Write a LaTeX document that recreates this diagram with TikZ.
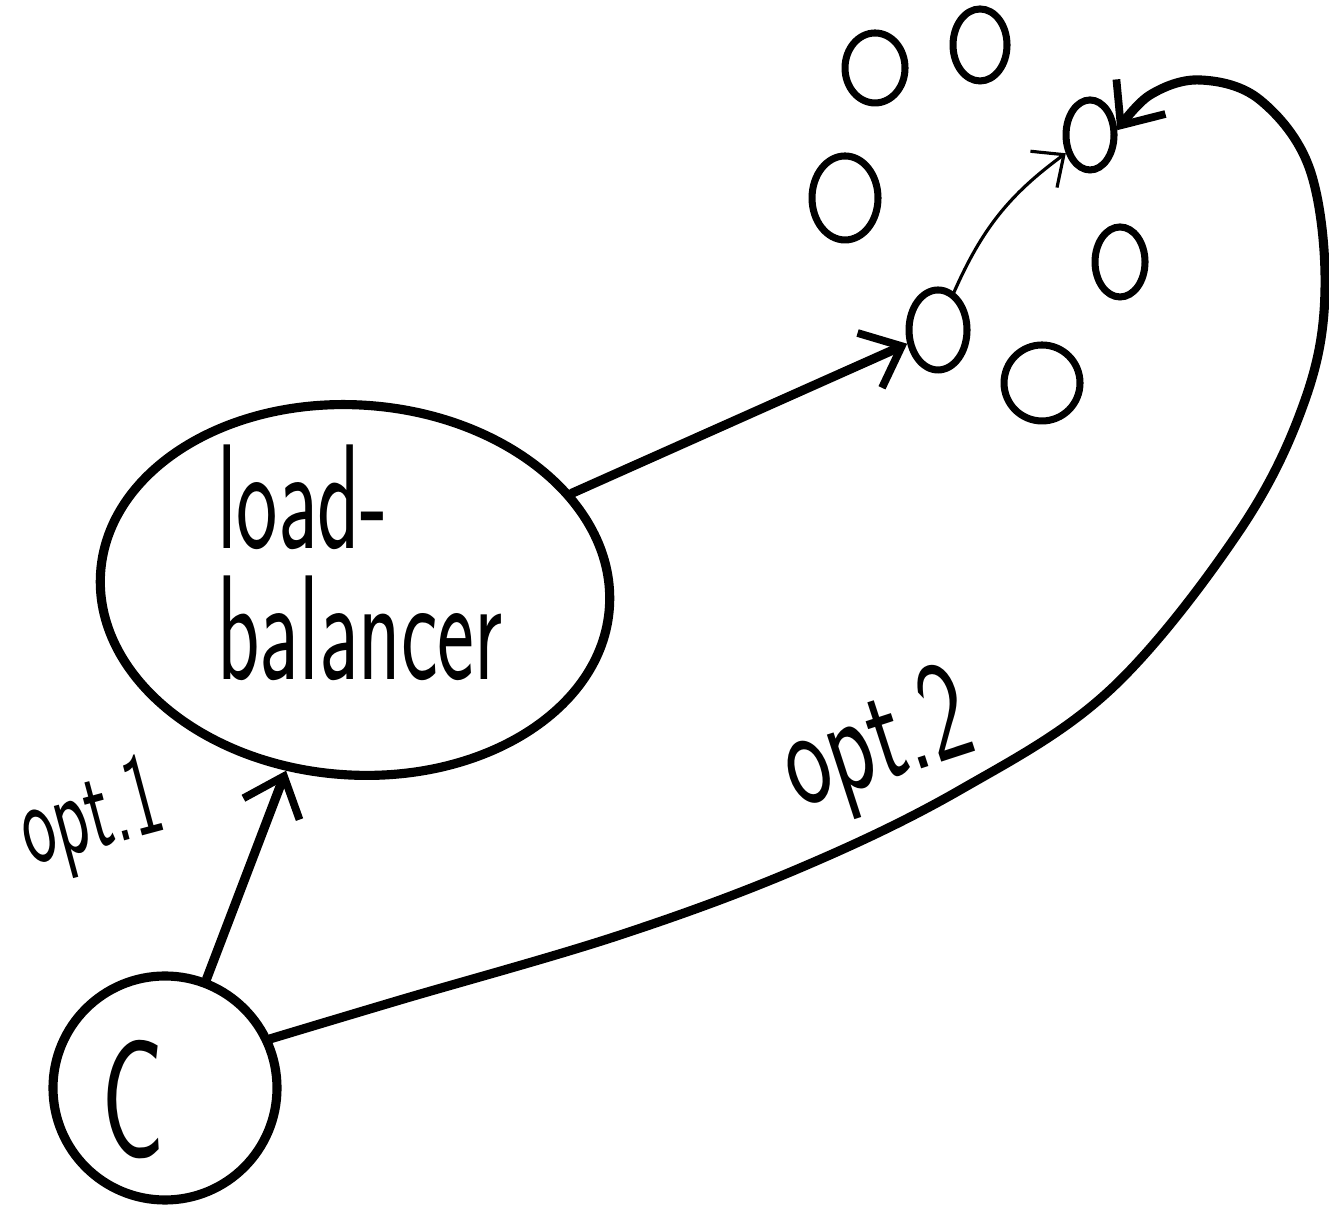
\documentclass[tikz,border=0pt]{standalone}
\usepackage{tikz}
\usetikzlibrary{shapes.geometric, arrows.meta}

\begin{document}
\begin{tikzpicture}[
  sketch/.style={line width=2.6pt, line cap=round, line join=round},
  server/.style={draw, ellipse, line width=2pt, inner sep=0pt},
  hand/.style={font=\sffamily, transform shape},
  tip/.style={-{Straight Barb[length=3.5mm,width=6mm,line width=2.2pt]}}
]
\useasboundingbox (0,0) rectangle (13.29,12.05);

\node[draw, circle, sketch, minimum size=2.24cm] (Client) at (1.65,1.17) {};
\node[hand, yscale=1.6, font=\sffamily\fontsize{30}{30}\selectfont] (ClientText) at (1.33,1.05) {C};

\node[draw, ellipse, sketch, rotate=-4, minimum width=5.1cm, minimum height=3.7cm] (Balancer) at (3.55,6.15) {};
\node[hand, align=left, yscale=1.7, font=\sffamily\fontsize{25}{22}\selectfont] (BalancerText) at (3.6,6.42) {load-\\balancer};

\node[server, minimum width=0.6cm, minimum height=0.7cm] (S1) at (8.75,11.37) {};
\node[server, minimum width=0.54cm, minimum height=0.72cm] (S2) at (9.80,11.60) {};
\node[server, minimum width=0.66cm, minimum height=0.84cm] (S3) at (8.45,10.07) {};
\node[server, minimum width=0.5cm, minimum height=0.7cm] (S4) at (11.20,9.43) {};
\node[server, minimum width=0.58cm, minimum height=0.8cm] (S5) at (9.38,8.75) {};
\node[server, minimum width=0.76cm, minimum height=0.76cm] (S6) at (10.42,8.22) {};
\node[server, minimum width=0.48cm, minimum height=0.7cm] (S7) at (10.90,10.70) {};

\draw[sketch, tip] (Client) to (Balancer);
\draw[sketch, tip] (Balancer) to (S5);
\draw[line width=0.9pt, line cap=round, -{Straight Barb[length=2.5mm,width=4.5mm]}] (S5) to[bend left=15] (S7);
\draw[sketch, tip] plot[smooth, tension=0.6] coordinates {(Client.25) (4.0,2.05) (6.2,2.7)
  (8.0,3.37) (9.6,4.15) (11.1,5.15) (12.4,6.75) (13.05,8.05) (13.25,9.15)
  (13.1,10.35) (12.6,11.05) (12.0,11.25) (11.5,11.1) (S7.10)};

\node[hand, rotate=15, yscale=1.7, font=\sffamily\fontsize{20}{20}\selectfont] (OptOne) at (0.92,3.85) {opt.1};
\node[hand, rotate=18, yscale=1.5, font=\sffamily\fontsize{27}{27}\selectfont] (OptTwo) at (8.78,4.58) {opt.2};
\end{tikzpicture}
\end{document}
